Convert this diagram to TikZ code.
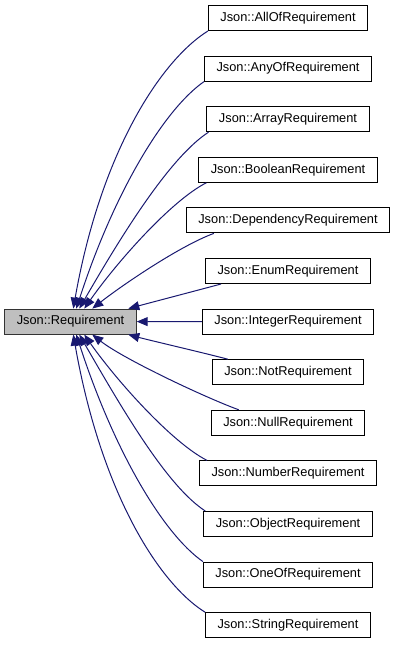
\documentclass[tikz,border=0pt]{standalone}
\usepackage{fontspec}
\setmainfont{Liberation Sans}
\usetikzlibrary{arrows.meta}

\definecolor{edgeblue}{HTML}{191970}
\tikzset{
  cls/.style={draw=black,fill=white,line width=1pt,minimum height=25pt,
    inner xsep=12pt,inner ysep=0pt,font=\fontsize{12.8}{15}\selectfont},
  basecls/.style={cls,fill=black!25,draw=black!80},
  inh/.style={draw=edgeblue,line width=1pt,-{Triangle[length=11pt,width=9pt]}}
}

\begin{document}
\begin{tikzpicture}[x=1pt,y=1pt]
  \useasboundingbox (0,0) rectangle (396,-645);

  \node[basecls] (base) at (70.5,-321.6) {Json::Requirement};
  \foreach \n [count=\i from 0] in {AllOf,AnyOf,Array,Boolean,Dependency,Enum,
      Integer,Not,Null,Number,Object,OneOf,String}
    \node[cls] (\n) at (288,{-18-50.6*\i}) {Json::\n Requirement};

  % upper and lower children bend into the base from above and below
  \foreach \t/\b/\sx/\o/\od/\tx/\a/\ad in {AllOf/String/0/212/55/69/80/160,
      AnyOf/OneOf/0/215/50/72/72/120, Array/Object/2/213/45/75/60/90,
      Boolean/Number/8/207/40/80/55/55, Dependency/Null/28/200/35/88/38/40,
      Enum/Not/16/195/20/124/15/20}{
    \draw[inh] ([xshift=\sx pt]\t.south west)
      to[out=\o,in=\a,out distance=\od pt,in distance=\ad pt]
      ([xshift=\tx pt]base.north west);
    \draw[inh] ([xshift=\sx pt]\b.north west)
      to[out=-\o,in=-\a,out distance=\od pt,in distance=\ad pt]
      ([xshift=\tx pt]base.south west);
  }
  \draw[inh] (Integer.west) -- (base.east);
\end{tikzpicture}
\end{document}
